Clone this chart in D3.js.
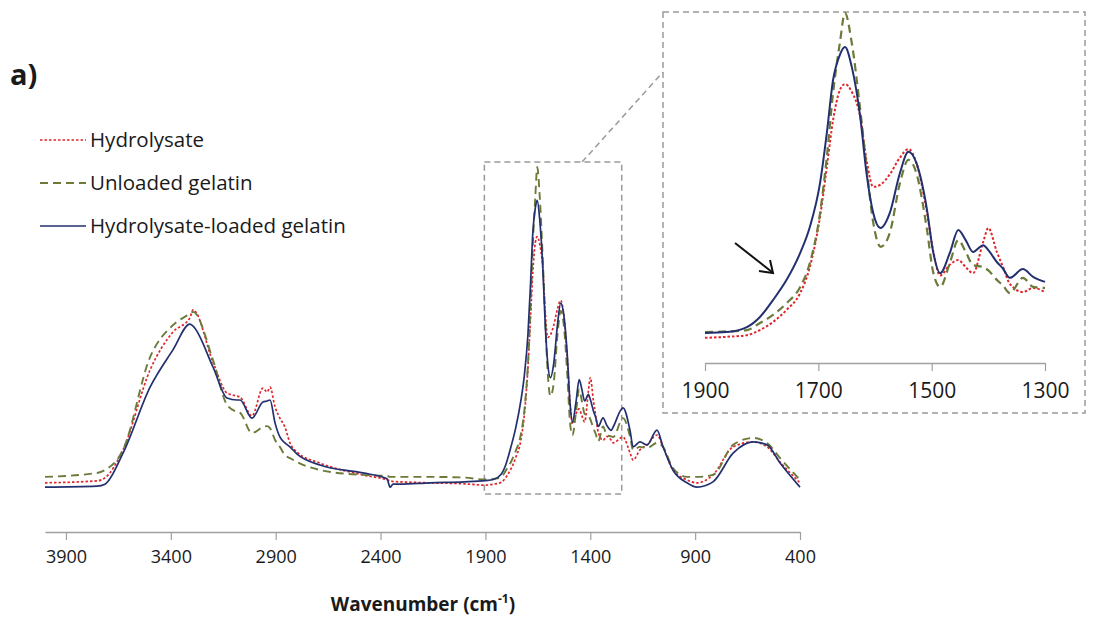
<!DOCTYPE html>
<html><head><meta charset="utf-8">
<script src="https://cdn.jsdelivr.net/npm/d3@7"></script>
<style>
html,body{margin:0;padding:0;background:#fff;}
svg text{font-family:"Open Sans",sans-serif;fill:#1a1a1a;}
</style></head>
<body><svg id="c" width="1110" height="617"></svg>
<script>
// wavenumber (cm-1)
const wavenumbers = [4000,3752,3714,3628,3499,3390,3309,3294,3199,3132,3085,3070,3013,2961,2941,2927,2903,2880,2856,2832,2798,2689,2484,2369,2355,2340,2307,2164,2000,
1900,1862,1826,1803,1780,1756,1732,1715,1697,1685,1674,1662,1653,1641,1626,1615,1603,1590,1574,1556,1541,1527,1509,1497,1485,1468,1453,1440,1427,1409,1400,1385,1374,1362,1339,1321,1300,
1291,1244,1210,1196,1163,1129,1082,1053,1006,939,891,815,719,624,557,495,400];
// absorbance (a.u.)
const hydrolysate = [.052,.058,.067,.152,.394,.509,.552,.576,.418,.324,.315,.312,.255,.339,.327,.342,.282,.248,.221,.173,.145,.112,.076,.061,.058,.056,.055,.052,.049,
.045,.048,.053,.068,.092,.128,.178,.255,.404,.552,.691,.780,.798,.775,.700,.573,.493,.500,.530,.580,.605,.564,.424,.300,.230,.262,.276,.255,.237,.330,.371,.300,.255,.205,.181,.193,.181,
.173,.191,.142,.121,.152,.167,.197,.161,.091,.061,.052,.076,.161,.176,.161,.115,.052];
const unloadedGelatin = [.070,.082,.091,.152,.433,.530,.564,.570,.424,.288,.267,.264,.203,.221,.224,.218,.182,.161,.136,.127,.115,.091,.076,.073,.070,.070,.070,.070,.068,
.062,.064,.068,.089,.113,.148,.196,.267,.415,.582,.772,.920,1.009,.920,.721,.552,.386,.315,.356,.504,.573,.534,.374,.237,.196,.267,.335,.300,.261,.255,.245,.217,.200,.178,.223,.196,.193,
.191,.248,.191,.152,.161,.158,.173,.161,.097,.070,.070,.076,.167,.188,.173,.127,.061];
const loadedGelatin = [.039,.042,.048,.142,.342,.455,.533,.527,.403,.309,.303,.303,.248,.297,.300,.303,.233,.191,.173,.161,.139,.106,.082,.064,.039,.048,.048,.052,.055,
.059,.062,.077,.107,.157,.217,.297,.374,.504,.653,.810,.885,.908,.849,.700,.534,.415,.371,.415,.534,.597,.564,.433,.297,.237,.297,.365,.335,.300,.320,.305,.270,.250,.223,.249,.226,.211,
.221,.279,.209,.161,.176,.167,.212,.161,.091,.052,.039,.055,.142,.176,.167,.112,.039];
const seriesNames = ["Hydrolysate","Unloaded gelatin","Hydrolysate-loaded gelatin"];
const mainTicks = [3900,3400,2900,2400,1900,1400,900,400];
const insetTicks = [1900,1700,1500,1300];

const styles = [
  {color:"#e0262b", dash:"2.5,2", w:1.7},
  {color:"#6b7b3a", dash:"8,5", w:1.9},
  {color:"#23306f", dash:null, w:1.7}
];
const series = [hydrolysate, unloadedGelatin, loadedGelatin].map((vals,i)=>({
  name: seriesNames[i], style: styles[i],
  pts: wavenumbers.map((w,j)=>({w, a: vals[j]}))
}));

const svg = d3.select("#c");
const fmt = d3.format("d");

// main chart
const x = d3.scaleLinear().domain([4000,400]).range([45,800]);
const y = d3.scaleLinear().domain([0,1]).range([500,170]);
const line = d3.line().x(d=>x(d.w)).y(d=>y(d.a)).curve(d3.curveMonotoneX);

// inset dashed box & connector
const gray = "#9a9a9a";
svg.append("rect").attr("x", x(1905)).attr("y", y(1.024)).attr("width", x(1250)-x(1905)).attr("height", y(0.018)-y(1.024))
  .attr("fill","none").attr("stroke",gray).attr("stroke-width",1.5).attr("stroke-dasharray","6,4");
svg.append("rect").attr("x",663).attr("y",12).attr("width",422).attr("height",401)
  .attr("fill","none").attr("stroke",gray).attr("stroke-width",1.5).attr("stroke-dasharray","6,4");
svg.append("line").attr("x1",582).attr("y1",y(1.024)).attr("x2",663).attr("y2",72)
  .attr("stroke",gray).attr("stroke-width",1.5).attr("stroke-dasharray","6,4");

// main axis
const gx = svg.append("g").attr("transform","translate(0,532)")
  .call(d3.axisBottom(x).tickValues(mainTicks).tickFormat(fmt).tickSize(8).tickSizeOuter(0).tickPadding(10));
gx.select(".domain").attr("stroke","#a0a0a0").attr("stroke-width",1.5);
gx.selectAll(".tick line").attr("stroke","#a0a0a0").attr("stroke-width",1.2);
gx.selectAll(".tick text").attr("font-size",18).attr("font-family","Open Sans").attr("fill","#1a1a1a");

const title = svg.append("text").attr("x",423).attr("y",611).attr("text-anchor","middle")
  .attr("font-weight","bold").attr("font-size",19);
title.append("tspan").text("Wavenumber (cm");
title.append("tspan").text("-1").attr("font-size",12).attr("dy",-8);
title.append("tspan").text(")").attr("dy",8);

series.forEach(s=>{
  svg.append("path").datum(s.pts).attr("d",line).attr("fill","none")
    .attr("stroke",s.style.color).attr("stroke-width",s.style.w)
    .attr("stroke-dasharray",s.style.dash).attr("stroke-linejoin","round");
});

// inset
const xi = d3.scaleLinear().domain([1900,1300]).range([705,1045]);
const yi = d3.scaleLinear().domain([0,1]).range([353,16]);
const linei = d3.line().x(d=>xi(d.w)).y(d=>yi(d.a)).curve(d3.curveMonotoneX);
const gi = svg.append("g").attr("transform","translate(0,363)")
  .call(d3.axisBottom(xi).tickValues(insetTicks).tickFormat(fmt).tickSize(8).tickSizeOuter(0).tickPadding(12));
gi.select(".domain").attr("stroke","#a0a0a0").attr("stroke-width",1.5);
gi.selectAll(".tick line").attr("stroke","#a0a0a0").attr("stroke-width",1.2);
gi.selectAll(".tick text").attr("font-size",21).attr("font-family","Open Sans").attr("fill","#1a1a1a");
series.forEach(s=>{
  svg.append("path").datum(s.pts.filter(d=>d.w<=1900 && d.w>=1300)).attr("d",linei).attr("fill","none")
    .attr("stroke",s.style.color).attr("stroke-width",s.style.w+0.3)
    .attr("stroke-dasharray",s.style.dash).attr("stroke-linejoin","round");
});

// arrow
svg.append("line").attr("x1",735).attr("y1",243).attr("x2",772).attr("y2",272)
  .attr("stroke","#111").attr("stroke-width",2);
svg.append("path").attr("d","M759,271 L773,273 L770,260").attr("fill","none")
  .attr("stroke","#111").attr("stroke-width",2);

// label
svg.append("text").attr("x",10).attr("y",85).attr("font-size",29).attr("font-weight","bold").text("a)");

// legend
const lg = svg.append("g");
series.forEach((s,i)=>{
  const cy = 140 + i*43;
  lg.append("line").attr("x1",40).attr("x2",86).attr("y1",cy).attr("y2",cy)
    .attr("stroke",s.style.color).attr("stroke-width",s.style.w)
    .attr("stroke-dasharray",s.style.dash);
  lg.append("text").attr("x",90).attr("y",cy+7).attr("font-size",20.5).text(s.name);
});
</script></body></html>
